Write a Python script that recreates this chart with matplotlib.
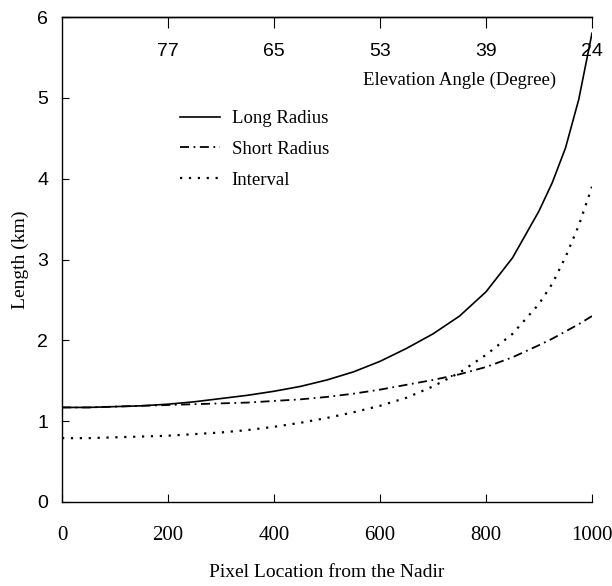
import matplotlib
matplotlib.use("Agg")
import matplotlib.pyplot as plt

# ---- data ----
pixel = [0, 50, 100, 150, 200, 250, 300, 350, 400, 450, 500, 550, 600, 650,
         700, 750, 800, 850, 900, 925, 950, 975, 1000]
long_radius = [1.17, 1.17, 1.18, 1.19, 1.21, 1.24, 1.28, 1.32, 1.37, 1.43, 1.51,
               1.61, 1.74, 1.90, 2.08, 2.30, 2.60, 3.02, 3.60, 3.95, 4.38, 4.98, 5.80]
short_radius = [1.17, 1.17, 1.18, 1.19, 1.20, 1.21, 1.22, 1.23, 1.25, 1.27, 1.30,
                1.34, 1.39, 1.45, 1.51, 1.58, 1.67, 1.79, 1.94, 2.02, 2.11, 2.20, 2.30]
interval = [0.79, 0.79, 0.80, 0.81, 0.82, 0.84, 0.86, 0.89, 0.93, 0.98, 1.04,
            1.11, 1.19, 1.29, 1.43, 1.60, 1.82, 2.08, 2.45, 2.70, 3.03, 3.42, 3.90]

x_ticks = [0, 200, 400, 600, 800, 1000]
y_ticks = [0, 1, 2, 3, 4, 5, 6]
top_tick_pos = [200, 400, 600, 800, 1000]
top_tick_labels = ["77", "65", "53", "39", "24"]

serif = ["Liberation Serif", "DejaVu Serif"]
narrow = ["Liberation Sans Narrow", "Liberation Sans", "DejaVu Sans"]

fig = plt.figure(figsize=(6.12, 5.86), dpi=100)
ax = fig.add_axes([62 / 612, (586 - 502) / 586, 530 / 612, 485 / 586])

ax.plot(pixel, long_radius, color="black", lw=1.2, linestyle="-", label="Long Radius")
ax.plot(pixel, short_radius, color="black", lw=1.3,
        linestyle=(0, (5, 2.5, 1, 2.5)), label="Short Radius")
ax.plot(pixel, interval, color="black", lw=1.6,
        linestyle=(0, (1, 3)), label="Interval")

ax.set_xlim(0, 1000)
ax.set_ylim(0, 6)
ax.set_xticks(x_ticks)
ax.set_yticks(y_ticks)
ax.set_xticklabels([str(t) for t in x_ticks], fontfamily=serif, fontsize=15)
ax.set_yticklabels([str(t) for t in y_ticks], fontfamily=narrow, fontsize=14)
ax.tick_params(axis="x", direction="in", length=6, width=0.8, pad=17)
ax.tick_params(axis="y", direction="in", length=5, width=0.8, pad=10)

ax.spines["right"].set_visible(False)
for s in ["left", "bottom", "top"]:
    ax.spines[s].set_linewidth(1.0)

ax.set_xlabel("Pixel Location from the Nadir", fontfamily=serif, fontsize=14, labelpad=14)
ax.set_ylabel("Length (km)", fontfamily=serif, fontsize=14, labelpad=6)

sec = ax.secondary_xaxis("top")
sec.set_xticks(top_tick_pos)
sec.set_xticklabels(top_tick_labels, fontfamily=narrow, fontsize=14)
sec.tick_params(axis="x", direction="in", length=8, width=0.8, pad=-31)
sec.spines["top"].set_linewidth(1.0)

ax.text(0.751, 0.870, "Elevation Angle (Degree)", transform=ax.transAxes,
        ha="center", va="center", fontfamily=serif, fontsize=13.5)

leg = ax.legend(loc="upper left", bbox_to_anchor=(0.222, 0.808), frameon=False,
                prop={"family": serif, "size": 13.5}, handlelength=2.13,
                handletextpad=0.64, labelspacing=0.73, borderaxespad=0, borderpad=0)

fig.savefig("out.png", dpi=100)
